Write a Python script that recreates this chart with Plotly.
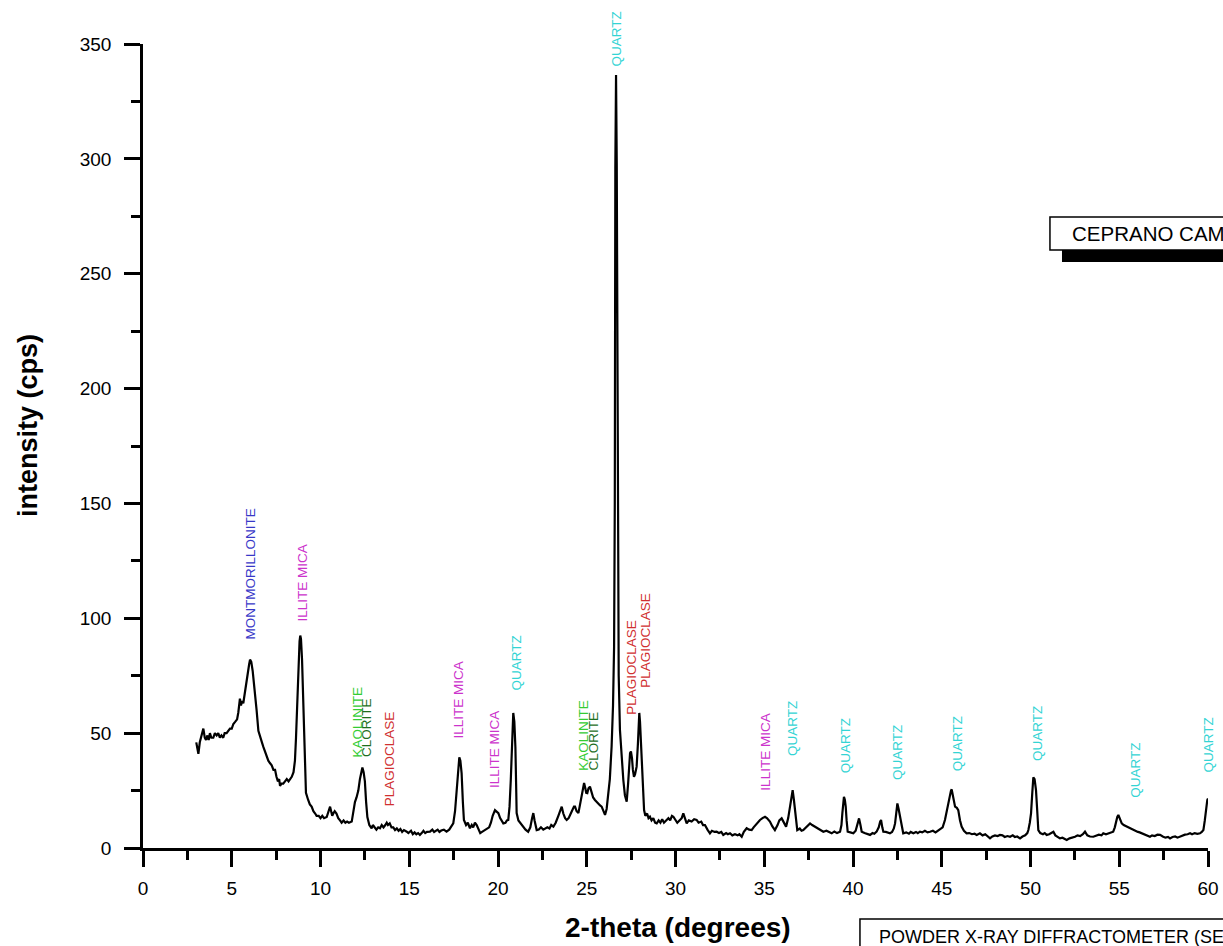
import plotly.graph_objects as go

# ---- diffraction trace (2-theta in degrees, intensity in cps) ----
two_theta = [
    3.0, 3.06, 3.12, 3.2, 3.3, 3.4, 3.48, 3.55, 3.63, 3.7, 3.77, 3.85, 3.96, 4.05, 4.15, 4.24, 4.33, 4.42, 4.52, 4.6,
    4.71, 4.8, 4.9, 5.0, 5.09, 5.2, 5.3, 5.37, 5.42, 5.46, 5.52, 5.58, 5.65, 5.72, 5.78, 5.84, 5.92, 5.98, 6.03, 6.1,
    6.18, 6.25, 6.31, 6.4, 6.5, 6.6, 6.7, 6.78, 6.9, 6.98, 7.06, 7.15, 7.25, 7.35, 7.44, 7.52, 7.6, 7.67, 7.72, 7.8,
    7.9, 8.0, 8.1, 8.2, 8.3, 8.38, 8.48, 8.56, 8.62, 8.69, 8.76, 8.82, 8.86, 8.9, 8.96, 9.02, 9.07, 9.12, 9.18, 9.3,
    9.4, 9.5, 9.6, 9.7, 9.78, 9.9, 10.0, 10.1, 10.2, 10.35, 10.45, 10.54, 10.6, 10.66, 10.72, 10.8, 10.9, 11.0, 11.1, 11.19,
    11.3, 11.4, 11.5, 11.6, 11.76, 11.85, 11.94, 12.03, 12.13, 12.22, 12.3, 12.36, 12.43, 12.5, 12.57, 12.64, 12.75, 12.88, 12.95, 13.05,
    13.15, 13.25, 13.35, 13.45, 13.55, 13.65, 13.73, 13.8, 13.9, 14.0, 14.1, 14.2, 14.3, 14.4, 14.5, 14.6, 14.7, 14.86, 14.95, 15.1,
    15.2, 15.3, 15.4, 15.5, 15.6, 15.7, 15.8, 15.9, 16.0, 16.17, 16.3, 16.4, 16.5, 16.6, 16.7, 16.8, 16.95, 17.1, 17.25, 17.35,
    17.48, 17.58, 17.67, 17.75, 17.82, 17.88, 17.95, 18.02, 18.08, 18.2, 18.3, 18.42, 18.52, 18.6, 18.7, 18.8, 18.9, 19.0, 19.1, 19.2,
    19.36, 19.5, 19.6, 19.7, 19.83, 19.92, 20.02, 20.12, 20.2, 20.3, 20.42, 20.5, 20.58, 20.65, 20.72, 20.8, 20.86, 20.92, 20.98, 21.02,
    21.05, 21.15, 21.25, 21.33, 21.45, 21.55, 21.7, 21.82, 21.92, 21.99, 22.06, 22.18, 22.3, 22.42, 22.55, 22.65, 22.78, 22.9, 23.0, 23.12,
    23.25, 23.4, 23.52, 23.59, 23.68, 23.78, 23.87, 23.98, 24.1, 24.2, 24.28, 24.34, 24.43, 24.53, 24.62, 24.72, 24.8, 24.85, 24.92, 24.97,
    25.03, 25.1, 25.18, 25.26, 25.36, 25.46, 25.56, 25.65, 25.75, 25.84, 25.93, 26.03, 26.12, 26.2, 26.3, 26.4, 26.48, 26.54, 26.58, 26.61,
    26.65, 26.69, 26.72, 26.76, 26.8, 26.87, 26.95, 27.06, 27.15, 27.25, 27.33, 27.39, 27.44, 27.49, 27.55, 27.6, 27.66, 27.72, 27.81, 27.88,
    27.93, 27.96, 28.0, 28.05, 28.1, 28.17, 28.23, 28.3, 28.4, 28.48, 28.56, 28.65, 28.75, 28.85, 28.94, 29.05, 29.15, 29.25, 29.35, 29.5,
    29.6, 29.7, 29.8, 29.88, 30.0, 30.1, 30.25, 30.35, 30.44, 30.52, 30.63, 30.75, 30.91, 31.05, 31.19, 31.3, 31.45, 31.55, 31.66, 31.8,
    31.94, 32.05, 32.2, 32.32, 32.45, 32.58, 32.69, 32.85, 32.95, 33.07, 33.2, 33.35, 33.5, 33.6, 33.73, 33.85, 34.01, 34.15, 34.29, 34.4,
    34.55, 34.65, 34.76, 34.9, 35.04, 35.15, 35.32, 35.45, 35.6, 35.75, 35.85, 35.98, 36.1, 36.23, 36.35, 36.45, 36.53, 36.6, 36.67, 36.73,
    36.8, 36.86, 37.0, 37.1, 37.2, 37.35, 37.48, 37.58, 37.7, 37.86, 38.0, 38.15, 38.33, 38.5, 38.65, 38.8, 38.95, 39.1, 39.27, 39.35,
    39.4, 39.45, 39.49, 39.54, 39.59, 39.64, 39.7, 39.85, 40.02, 40.15, 40.25, 40.34, 40.42, 40.49, 40.65, 40.8, 40.96, 41.1, 41.2, 41.33,
    41.45, 41.53, 41.58, 41.65, 41.71, 41.85, 42.0, 42.08, 42.2, 42.3, 42.37, 42.44, 42.5, 42.57, 42.65, 42.75, 42.83, 43.0, 43.15, 43.25,
    43.4, 43.55, 43.65, 43.77, 43.9, 44.05, 44.2, 44.34, 44.5, 44.65, 44.78, 44.9, 45.05, 45.18, 45.28, 45.37, 45.46, 45.52, 45.56, 45.62,
    45.68, 45.75, 45.85, 45.93, 46.03, 46.12, 46.25, 46.4, 46.55, 46.7, 46.85, 46.97, 47.15, 47.3, 47.45, 47.6, 47.72, 47.85, 48.0, 48.15,
    48.28, 48.42, 48.55, 48.7, 48.85, 49.0, 49.12, 49.25, 49.41, 49.55, 49.7, 49.82, 49.88, 49.96, 50.03, 50.1, 50.16, 50.23, 50.31, 50.38,
    50.44, 50.55, 50.7, 50.8, 50.91, 51.05, 51.15, 51.29, 51.4, 51.52, 51.66, 51.8, 51.92, 52.04, 52.2, 52.35, 52.51, 52.65, 52.8, 52.95,
    53.07, 53.2, 53.35, 53.54, 53.7, 53.85, 54.0, 54.1, 54.25, 54.4, 54.55, 54.66, 54.75, 54.82, 54.89, 54.95, 55.02, 55.08, 55.14, 55.25,
    55.42, 55.55, 55.65, 55.79, 55.9, 56.05, 56.15, 56.26, 56.4, 56.55, 56.73, 56.85, 57.0, 57.15, 57.3, 57.45, 57.6, 57.75, 57.86, 58.0,
    58.15, 58.28, 58.42, 58.55, 58.7, 58.85, 58.99, 59.1, 59.25, 59.4, 59.55, 59.65, 59.74, 59.82, 59.9, 59.96, 60.0,
]
intensity = [
    46, 43, 41, 46, 49, 52, 48, 47, 49, 47, 50, 48, 48, 50, 49, 50, 48, 49, 48, 50,
    50, 51, 52, 52, 54, 55, 56, 59, 63, 65, 62, 64, 63, 67, 70, 73, 77, 80, 82, 81,
    77, 72, 69, 60, 51, 48, 46, 44, 41, 40, 38, 37, 36, 34, 34, 31, 29, 30, 27, 28,
    28, 29, 30, 29, 30, 31, 33, 38, 48, 64, 80, 90, 92.5, 91, 82, 66, 50, 35, 24, 21,
    19, 18, 16, 15, 14, 14, 13, 14, 13, 13.5, 16, 18, 16, 14, 15, 16, 15, 13, 12, 11,
    12, 11, 11.5, 11, 11.5, 16, 20, 22, 25, 30, 34, 35, 33, 29, 20, 13.5, 10, 8.6, 10, 9,
    8, 9, 8.6, 10, 9, 10, 11, 10, 10.7, 9, 9, 7.8, 8.5, 7.5, 8.3, 7, 7.8, 7.1, 6.5, 7.5,
    6, 6.8, 6, 6.5, 5.7, 6.5, 7.5, 6.5, 7, 7.1, 8, 7, 7.5, 8, 7, 7.6, 8, 7.1, 8, 9,
    10.7, 16, 24, 34, 39.5, 38, 32.6, 20, 12.2, 10, 11, 8.6, 10, 9, 11, 10, 8, 6.5, 7, 7.5,
    8, 9, 11, 14, 16.5, 16, 15.2, 13, 12, 10.7, 11, 12, 12.2, 18, 29.6, 48, 58.8, 55, 44, 28,
    15.2, 12, 11, 10, 9, 8, 7.1, 9, 13, 15.2, 12, 7.8, 8, 9, 8, 8.6, 9, 8.5, 10, 9.3,
    11, 14, 17, 18, 15, 13, 12.2, 13, 15, 17, 18, 18, 16, 15.2, 19, 24, 27, 28.3, 26, 24,
    23.9, 26, 26.7, 24, 22, 20.9, 20, 19.5, 18.5, 18, 16, 14.4, 17, 22.3, 30, 44.1, 62, 87.6, 150, 296,
    336.5, 298, 200, 110, 75, 51.4, 40, 29.6, 23, 20.2, 28, 36, 41.3, 42, 39, 34, 31, 32, 35.4, 45,
    55, 58.8, 55, 46, 38.3, 25, 16.5, 14, 15, 13, 13.6, 12, 13, 11, 10.7, 12, 11, 12.5, 11, 12.2,
    13, 12, 14, 13.6, 12, 11, 12.2, 13, 15.1, 13, 10.7, 12, 11.5, 12.5, 12.2, 11, 11.5, 10, 10, 8,
    6.4, 7.5, 7, 7.1, 6.5, 7, 5.7, 6.5, 6, 6.4, 5.5, 6, 5.5, 6, 4.9, 7, 8.6, 8, 7.8, 9,
    10.5, 11, 12.2, 13, 13.6, 13, 11.5, 9.5, 7.8, 10, 12, 12.9, 11, 9.3, 13, 18, 23, 25.2, 21, 16.5,
    11, 7.8, 8.5, 7.5, 7.8, 9, 10, 10.7, 10, 9.3, 8.5, 8, 7.1, 7.5, 6.8, 6.4, 7.2, 6.5, 7.1, 10,
    15.1, 20, 22.3, 21, 18, 12, 7.1, 6.8, 6.4, 7.5, 10, 12.9, 10, 7.1, 6.5, 6, 5.7, 6.5, 6.2, 7.1,
    9, 11.5, 12.2, 9, 7.1, 7, 6.5, 6.4, 7, 8.5, 10.7, 15, 19.4, 17, 13.6, 9, 6.4, 6.8, 6.2, 7,
    6.4, 7, 6.5, 7.1, 6.8, 7.5, 6.8, 7.1, 7.5, 6.8, 7.5, 7.8, 9, 12.2, 16, 20.9, 23, 25, 25.5, 23,
    20, 18, 17.5, 16.5, 12, 9.3, 7.5, 6.4, 6.5, 6, 6.2, 5.7, 6.4, 5.5, 6, 5, 4.2, 5, 5.5, 5.2,
    5.7, 5.5, 4.8, 5.2, 4.9, 5.5, 4.8, 5, 4.2, 5, 5.5, 6.5, 7.8, 11, 15.1, 24, 30.8, 30, 25.2, 16,
    7.8, 6.5, 6, 6.5, 5.7, 6, 6.5, 7.1, 5.5, 5, 4.2, 4.5, 4, 3.5, 4.2, 4.5, 4.9, 5.5, 5.2, 6,
    7.1, 5.5, 5, 4.9, 5.5, 5.8, 5.5, 6.4, 6, 6.5, 6.8, 7.1, 9, 12.2, 13.5, 14.4, 13, 11.5, 10.7, 10,
    9.3, 9, 8.5, 7.8, 7.5, 7, 6.8, 6.4, 5.8, 5.5, 4.9, 5.5, 5.2, 5.8, 5.7, 5, 4.5, 4.8, 4.2, 4.8,
    5, 4.5, 4.9, 5.5, 5.8, 6, 6.4, 6, 6.5, 6.2, 6.4, 7, 7.8, 12, 18, 20.9, 21.5,
]

# ---- peak identification labels ----
label_text = [
    "MONTMORILLONITE", "ILLITE MICA", "KAOLINITE", "CLORITE", "PLAGIOCLASE",
    "ILLITE MICA", "ILLITE MICA", "QUARTZ", "KAOLINITE", "CLORITE",
    "QUARTZ", "PLAGIOCLASE", "PLAGIOCLASE", "ILLITE MICA", "QUARTZ",
    "QUARTZ", "QUARTZ", "QUARTZ", "QUARTZ", "QUARTZ", "QUARTZ",
]
label_x = [
    6.03, 8.96, 12.06, 12.6, 13.9,
    17.75, 19.8, 21.07, 24.85, 25.4,
    26.7, 27.5, 28.3, 35.1, 36.6,
    39.6, 42.5, 45.9, 50.4, 55.9, 60.0,
]
label_y = [
    89.7, 97.5, 38.3, 38.8, 17.4,
    46.6, 25.2, 67.9, 32.6, 33.0,
    339.5, 57.0, 68.8, 23.9, 39.2,
    31.8, 28.7, 32.6, 37.0, 20.9, 31.8,
]
mineral_colors = {
    "MONTMORILLONITE": "#3838c8",
    "ILLITE MICA": "#cc33cc",
    "KAOLINITE": "#33cc33",
    "CLORITE": "#1e6e1e",
    "PLAGIOCLASE": "#d03030",
    "QUARTZ": "#33d4d4",
}

x_ticks = [0, 5, 10, 15, 20, 25, 30, 35, 40, 45, 50, 55, 60]
y_ticks = [0, 50, 100, 150, 200, 250, 300, 350]

sample_title = "CEPRANO CAMPOGRANDE"
instrument_note = "POWDER X-RAY DIFFRACTOMETER (SEIFERT)"

FONT = "Liberation Sans, Arial, sans-serif"

fig = go.Figure()
fig.add_trace(go.Scatter(
    x=two_theta, y=intensity, mode="lines",
    line=dict(color="black", width=2.2), showlegend=False, hoverinfo="x+y",
))

annotations = []
for t, xv, yv in zip(label_text, label_x, label_y):
    annotations.append(dict(
        x=xv, y=yv, xref="x", yref="y", text=t, showarrow=False,
        textangle=-90, xanchor="center", yanchor="bottom",
        font=dict(family=FONT, size=13.5, color=mineral_colors[t]),
    ))

# axis titles
annotations.append(dict(
    x=0.5023, y=-0.0995, xref="paper", yref="paper", text="<b>2-theta (degrees)</b>",
    showarrow=False, xanchor="center", yanchor="middle",
    font=dict(family=FONT, size=28, color="black"),
))
annotations.append(dict(
    x=-0.108, y=0.526, xref="paper", yref="paper", text="<b>intensity (cps)</b>",
    showarrow=False, xanchor="center", yanchor="middle", textangle=-90,
    font=dict(family=FONT, size=27, color="black"),
))
# boxed notes
annotations.append(dict(
    x=0.870, y=0.7649, xref="paper", yref="paper", text=sample_title,
    showarrow=False, xanchor="left", yanchor="middle",
    font=dict(family=FONT, size=20.5, color="black"),
))
annotations.append(dict(
    x=0.689, y=-0.1107, xref="paper", yref="paper", text=instrument_note,
    showarrow=False, xanchor="left", yanchor="middle",
    font=dict(family=FONT, size=18, color="black"),
))

shapes = [
    # shadow of the sample box
    dict(type="rect", xref="paper", yref="paper", x0=0.8629, x1=1.05, y0=0.7289, y1=0.7438,
         fillcolor="black", line=dict(width=0)),
    dict(type="rect", xref="paper", yref="paper", x0=0.8516, x1=1.05, y0=0.7438, y1=0.7848,
         fillcolor="white", line=dict(color="black", width=1.5)),
    dict(type="rect", xref="paper", yref="paper", x0=0.6732, x1=1.05, y0=-0.16, y1=-0.0883,
         fillcolor="white", line=dict(color="black", width=1.5), layer="below"),
]

fig.update_layout(
    width=1223, height=946,
    margin=dict(l=143, r=15, t=44, b=98),
    paper_bgcolor="white", plot_bgcolor="white",
    font=dict(family=FONT, color="black"),
    annotations=annotations, shapes=shapes,
    showlegend=False,
)
fig.update_xaxes(
    range=[0, 60], tickvals=x_ticks, ticktext=[str(v) for v in x_ticks],
    showline=True, linecolor="black", linewidth=2.5, mirror=False,
    ticks="outside", ticklen=16, tickwidth=2.5, tickcolor="black",
    minor=dict(dtick=2.5, ticks="outside", ticklen=9, tickwidth=2.5, tickcolor="black"),
    showgrid=False, zeroline=False, tickfont=dict(family=FONT, size=19, color="black"),
    ticklabelstandoff=5, automargin=False,
)
fig.update_yaxes(
    range=[0, 350], tickvals=y_ticks, ticktext=[str(v) for v in y_ticks],
    showline=True, linecolor="black", linewidth=2.5, mirror=False,
    ticks="outside", ticklen=16, tickwidth=2.5, tickcolor="black",
    minor=dict(dtick=25, ticks="outside", ticklen=9, tickwidth=2.5, tickcolor="black"),
    showgrid=False, zeroline=False, tickfont=dict(family=FONT, size=19, color="black"),
    ticklabelstandoff=9, automargin=False,
)

# remove the page's default 8 px body margin so the figure fills the window exactly
fig.write_html(
    "out.html",
    config={"displayModeBar": False},
    post_script="document.body.style.margin='0';document.body.style.overflow='hidden';",
)
